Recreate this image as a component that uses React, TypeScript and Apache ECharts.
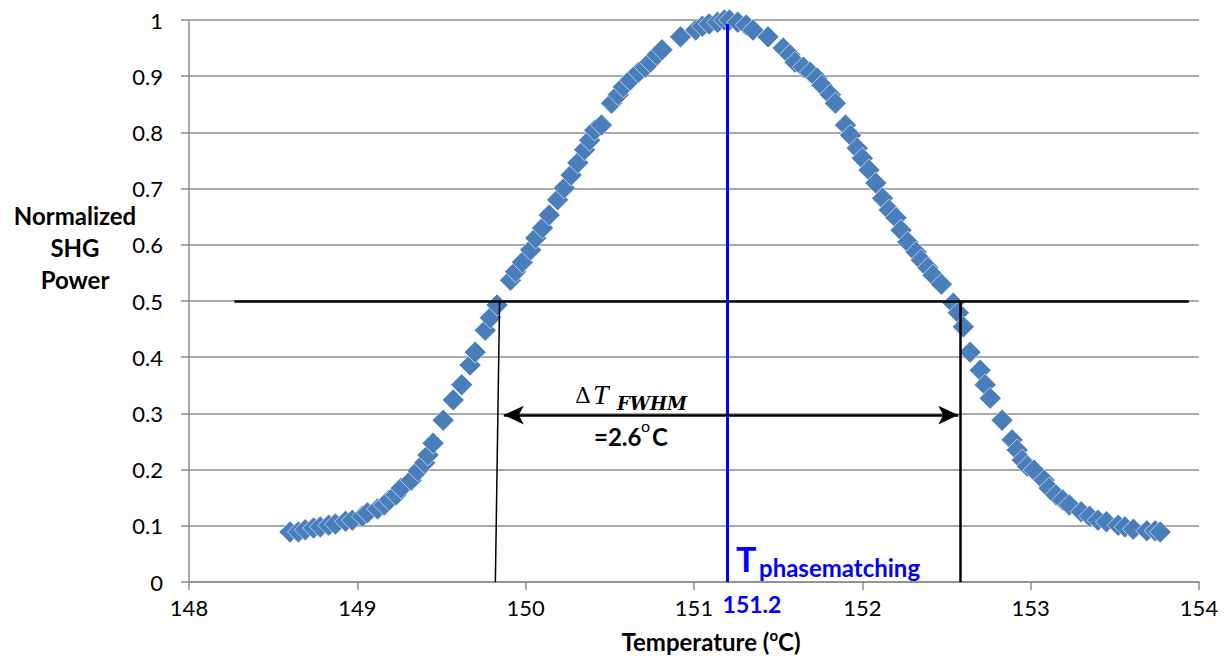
import React, { useEffect, useRef } from 'react';
import * as echarts from 'echarts';

// Measured SHG data (temperature in °C, normalized power)
const temperatures = [
  148.60, 148.65, 148.69, 148.74, 148.78, 148.83, 148.87, 148.93, 148.97, 149.03,
  149.06, 149.12, 149.16, 149.19, 149.23, 149.26, 149.32, 149.36, 149.40, 149.42,
  149.45, 149.51, 149.57, 149.62, 149.67, 149.70, 149.76, 149.79, 149.83, 149.91,
  149.94, 149.98, 150.03, 150.06, 150.10, 150.14, 150.19, 150.23, 150.27, 150.31,
  150.35, 150.38, 150.41, 150.45, 150.51, 150.55, 150.58, 150.62, 150.67, 150.71,
  150.74, 150.78, 150.81, 150.92, 151.01, 151.05, 151.09, 151.14, 151.18, 151.21,
  151.26, 151.31, 151.35, 151.44, 151.53, 151.57, 151.60, 151.65, 151.69, 151.73,
  151.76, 151.81, 151.84, 151.90, 151.93, 151.97, 152.00, 152.04, 152.08, 152.12,
  152.16, 152.20, 152.23, 152.27, 152.32, 152.35, 152.39, 152.42, 152.47, 152.54,
  152.57, 152.60, 152.64, 152.70, 152.73, 152.76, 152.83, 152.89, 152.92, 152.95,
  152.98, 153.02, 153.08, 153.11, 153.15, 153.19, 153.23, 153.30, 153.35, 153.40,
  153.45, 153.52, 153.56, 153.61, 153.69, 153.74, 153.77,
];
const power = [
  0.089, 0.089, 0.093, 0.096, 0.098, 0.101, 0.103, 0.108, 0.110, 0.117,
  0.123, 0.130, 0.137, 0.146, 0.155, 0.167, 0.181, 0.198, 0.212, 0.226,
  0.247, 0.288, 0.324, 0.351, 0.386, 0.409, 0.448, 0.470, 0.493, 0.537,
  0.552, 0.569, 0.591, 0.612, 0.630, 0.653, 0.680, 0.701, 0.724, 0.746,
  0.769, 0.786, 0.804, 0.813, 0.852, 0.867, 0.881, 0.893, 0.907, 0.916,
  0.925, 0.938, 0.947, 0.970, 0.982, 0.989, 0.993, 0.996, 1.000, 1.000,
  0.996, 0.991, 0.982, 0.970, 0.950, 0.938, 0.925, 0.916, 0.907, 0.897,
  0.884, 0.867, 0.852, 0.813, 0.795, 0.772, 0.754, 0.733, 0.710, 0.683,
  0.662, 0.648, 0.626, 0.605, 0.587, 0.573, 0.559, 0.546, 0.530, 0.496,
  0.479, 0.454, 0.409, 0.377, 0.351, 0.327, 0.288, 0.253, 0.235, 0.217,
  0.206, 0.199, 0.181, 0.167, 0.155, 0.146, 0.137, 0.125, 0.117, 0.110,
  0.107, 0.101, 0.098, 0.094, 0.091, 0.091, 0.089,
];

// Annotation values
const halfMax = 0.5;
const halfMaxLineStart = 148.27;
const halfMaxLineEnd = 153.94;
const fwhmLeftBottom = 149.82;
const fwhmLeftTop = 149.845;
const fwhmRight = 152.58;
const arrowLevel = 0.297;
const arrowLeft = 149.87;
const arrowRight = 152.57;
const tPhasematching = 151.2;
const tPeakTop = 0.993;

const FONT = 'Lato, "Open Sans", sans-serif';
const BLUE_PT = '#4a7ebb';

export default function App() {
  const ref = useRef<HTMLDivElement>(null);

  useEffect(() => {
    if (!ref.current) return;
    const chart = echarts.init(ref.current, undefined, { renderer: 'svg' });
    const points = temperatures.map((t, i) => [t, power[i]]);

    chart.setOption({
      animation: false,
      grid: { left: 189, right: 28, top: 20, bottom: 76, containLabel: false },
      xAxis: {
        type: 'value',
        min: 148,
        max: 154,
        interval: 1,
        axisLine: { show: true, lineStyle: { color: '#8c8c8c', width: 1.5 } },
        axisTick: { show: true, inside: false, length: 8, lineStyle: { color: '#8c8c8c', width: 1.5 } },
        splitLine: { show: false },
        axisLabel: { color: '#000', fontFamily: FONT, fontSize: 22, margin: 14 },
      },
      yAxis: {
        type: 'value',
        min: 0,
        max: 1,
        interval: 0.1,
        axisLine: { show: true, lineStyle: { color: '#8c8c8c', width: 1.5 } },
        axisTick: { show: true, inside: false, length: 8, lineStyle: { color: '#8c8c8c', width: 1.5 } },
        splitLine: { show: true, lineStyle: { color: '#8c8c8c', width: 1.5 } },
        axisLabel: {
          color: '#000',
          fontFamily: FONT,
          fontSize: 22,
          margin: 26,
          formatter: (v: number) => String(Math.round(v * 10) / 10),
        },
      },
      series: [
        {
          type: 'scatter',
          data: points,
          symbol: 'diamond',
          symbolSize: 22,
          itemStyle: { color: BLUE_PT, opacity: 1, borderColor: '#ffffff', borderWidth: 0.6 },
          z: 2,
        },
        {
          type: 'scatter',
          data: [],
          z: 5,
          markLine: {
            silent: true,
            animation: false,
            symbol: ['none', 'none'],
            label: { show: false },
            data: [
              [
                { coord: [halfMaxLineStart, halfMax], lineStyle: { color: '#000', width: 2.5, type: 'solid' } },
                { coord: [halfMaxLineEnd, halfMax] },
              ],
              [
                { coord: [fwhmLeftBottom, 0], lineStyle: { color: '#000', width: 1.5, type: 'solid' } },
                { coord: [fwhmLeftTop, halfMax] },
              ],
              [
                { coord: [fwhmRight, 0], lineStyle: { color: '#000', width: 2.5, type: 'solid' } },
                { coord: [fwhmRight, halfMax] },
              ],
              [
                { coord: [tPhasematching, 0], lineStyle: { color: '#0000ff', width: 3, type: 'solid' } },
                { coord: [tPhasematching, tPeakTop] },
              ],
            ],
          },
        },
        {
          type: 'scatter',
          data: [],
          z: 6,
          markLine: {
            silent: true,
            animation: false,
            symbol: ['arrow', 'arrow'],
            symbolSize: [14, 20],
            label: { show: false },
            lineStyle: { color: '#000', width: 2.5, type: 'solid' },
            data: [[{ coord: [arrowLeft, arrowLevel] }, { coord: [arrowRight, arrowLevel] }]],
          },
        },
      ],
      graphic: [
        {
          type: 'text',
          x: 75,
          y: 247,
          style: {
            text: 'Normalized\nSHG\nPower',
            fontFamily: FONT,
            fontWeight: 'bold',
            fontSize: 24,
            lineHeight: 32,
            fill: '#000',
            align: 'center',
            verticalAlign: 'middle',
          },
        },
        {
          type: 'text',
          x: 711,
          y: 641,
          style: {
            text: '{a|Temperature (}{b|o}{a|C)}',
            fontFamily: FONT,
            fill: '#000',
            align: 'center',
            verticalAlign: 'middle',
            rich: {
              a: { fontFamily: FONT, fontWeight: 'bold', fontSize: 24, fill: '#000', lineHeight: 28 },
              b: { fontFamily: FONT, fontWeight: 'bold', fontSize: 15, fill: '#000', verticalAlign: 'top', lineHeight: 28, padding: [0, 0, 8, 0] },
            },
          },
        },
        {
          type: 'text',
          x: 752,
          y: 604,
          style: {
            text: '151.2',
            fontFamily: FONT,
            fontWeight: 'bold',
            fontSize: 23,
            fill: '#0000ff',
            align: 'center',
            verticalAlign: 'middle',
          },
        },
        {
          type: 'text',
          x: 736,
          y: 558,
          style: {
            text: 'T',
            fontFamily: FONT,
            fontWeight: 'bold',
            fontSize: 34,
            fill: '#0000ff',
            align: 'left',
            verticalAlign: 'middle',
          },
        },
        {
          type: 'text',
          x: 759,
          y: 567,
          style: {
            text: 'phasematching',
            fontFamily: FONT,
            fontWeight: 'bold',
            fontSize: 24,
            fill: '#0000ff',
            align: 'left',
            verticalAlign: 'middle',
          },
        },
        {
          type: 'text',
          x: 575,
          y: 395,
          style: {
            text: '\u0394',
            fontFamily: '"DejaVu Serif", serif',
            fontSize: 22,
            fill: '#000',
            align: 'left',
            verticalAlign: 'middle',
          },
        },
        {
          type: 'text',
          x: 593,
          y: 394,
          style: {
            text: 'T',
            fontFamily: '"Liberation Serif", serif',
            fontStyle: 'italic',
            fontSize: 28,
            fill: '#000',
            align: 'left',
            verticalAlign: 'middle',
          },
        },
        {
          type: 'text',
          x: 617,
          y: 403,
          style: {
            text: 'FWHM',
            fontFamily: '"DejaVu Serif", serif',
            fontStyle: 'italic',
            fontWeight: 'bold',
            fontSize: 18,
            fill: '#000',
            align: 'left',
            verticalAlign: 'middle',
          },
        },
        {
          type: 'text',
          x: 594,
          y: 436,
          style: {
            text: '=2.6',
            fontFamily: FONT,
            fontWeight: 'bold',
            fontSize: 24,
            fill: '#000',
            align: 'left',
            verticalAlign: 'middle',
          },
        },
        {
          type: 'text',
          x: 641,
          y: 425,
          style: {
            text: 'o',
            fontFamily: FONT,
            fontSize: 16,
            fill: '#000',
            align: 'left',
            verticalAlign: 'middle',
          },
        },
        {
          type: 'text',
          x: 652,
          y: 436,
          style: {
            text: 'C',
            fontFamily: FONT,
            fontWeight: 'bold',
            fontSize: 24,
            fill: '#000',
            align: 'left',
            verticalAlign: 'middle',
          },
        },
      ],
    });

    return () => chart.dispose();
  }, []);

  return <div ref={ref} style={{ width: 1227, height: 658, position: 'absolute', left: 0, top: 0 }} />;
}
